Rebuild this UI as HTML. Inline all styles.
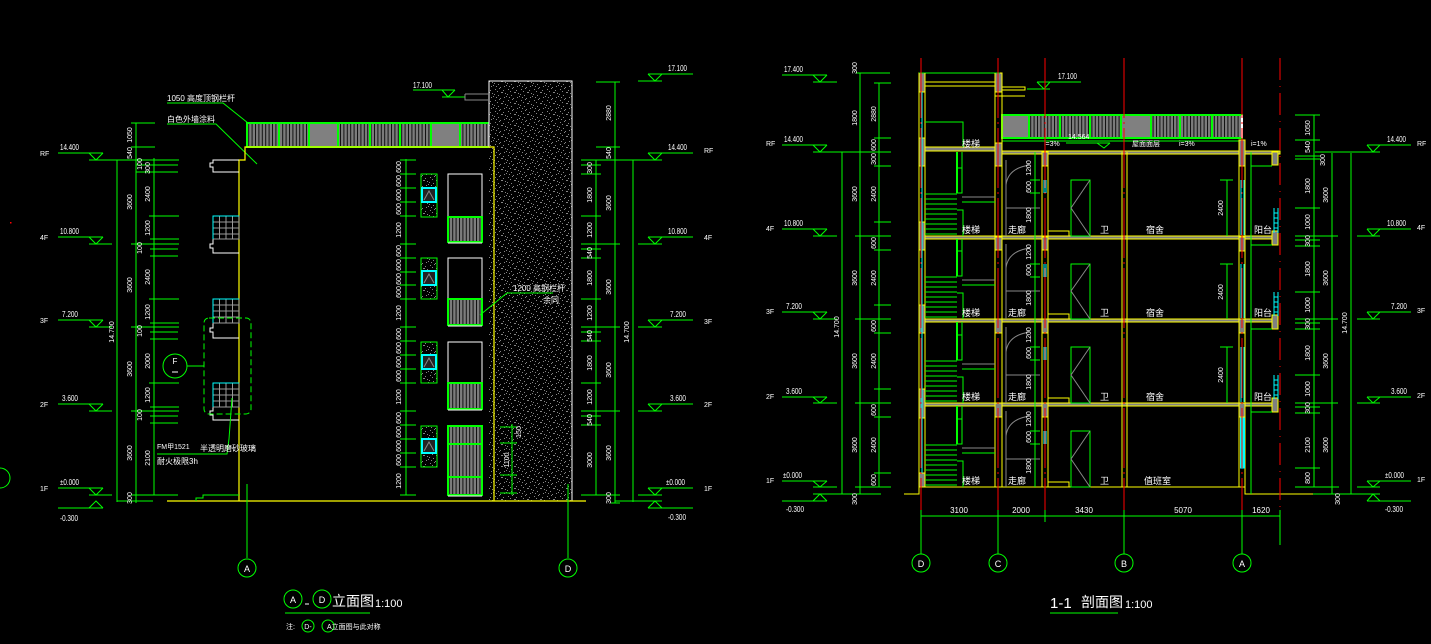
<!DOCTYPE html>
<html><head><meta charset="utf-8">
<style>
html,body{margin:0;padding:0;background:#000;}
svg{display:block;}
text{font-family:"Liberation Sans","Noto Sans CJK SC",sans-serif;fill:#fff;}
.t7{font-size:7px;}
.t8{font-size:8px;}
.t9{font-size:9px;}
</style></head><body>
<svg width="1431" height="644" viewBox="0 0 1431 644" xmlns="http://www.w3.org/2000/svg">
<defs>
<pattern id="sp" width="13" height="11" patternUnits="userSpaceOnUse">
<rect width="13" height="11" fill="#000"/>
<g fill="#858585">
<rect x="1" y="1" width="1" height="1"/><rect x="5" y="0" width="1" height="1"/><rect x="9" y="2" width="1" height="1"/>
<rect x="3" y="3" width="1" height="1"/><rect x="7" y="4" width="2" height="1"/><rect x="11" y="5" width="1" height="1"/><rect x="0" y="6" width="1" height="1"/>
<rect x="4" y="7" width="1" height="1"/><rect x="2" y="9" width="1" height="1"/><rect x="6" y="10" width="1" height="1"/>
<rect x="10" y="9" width="1" height="1"/><rect x="12" y="8" width="1" height="1"/>
</g>
</pattern>
<pattern id="rl" width="3.4" height="20" patternUnits="userSpaceOnUse">
<rect width="3.4" height="20" fill="#7c7c7c"/><rect width="1" height="20" fill="#111"/>
</pattern>
</defs>
<rect width="1431" height="644" fill="#000"/>

<!-- ================= LEFT ELEVATION ================= -->
<rect x="10" y="222" width="1.5" height="1.5" fill="#f00"/>
<circle cx="0" cy="478" r="10" stroke="#0f0" fill="none"/>

<g stroke="#0f0" fill="none" stroke-width="1">
<path d="M58 153H103M89 153L96 160L103 153M89 160H179"/>
<path d="M58 237H103M89 237L96 244L103 237M89 244H112M131 244H179"/>
<path d="M58 320H103M89 320L96 327L103 320M89 327H112M131 327H179"/>
<path d="M58 404H103M89 404L96 411L103 404M89 411H112M131 411H179"/>
<path d="M58 488H103M89 488L96 495L103 488M89 495H112M131 495H178"/>
<path d="M58 508H103M89 508L96 501L103 508M117 501H153"/>
<path d="M117 160V502M136 123V503M154 158V495"/>
<path d="M131 123H155M131 147H155M136 165H178M136 172H178M150 249H178M150 256H178M150 332H178M150 339H178M150 416H178M150 423H178"/>
<path d="M149 216H179M150 239H179M149 299H179M150 323H179M149 383H179M150 407H179"/>
</g>
<g class="t8">
<text x="60" y="150" textLength="19" lengthAdjust="spacingAndGlyphs">14.400</text><text x="60" y="234" textLength="19" lengthAdjust="spacingAndGlyphs">10.800</text><text x="62" y="317" textLength="16" lengthAdjust="spacingAndGlyphs">7.200</text><text x="62" y="401" textLength="16" lengthAdjust="spacingAndGlyphs">3.600</text><text x="60" y="485" textLength="19" lengthAdjust="spacingAndGlyphs">±0.000</text><text x="60" y="521" textLength="18" lengthAdjust="spacingAndGlyphs">-0.300</text>
</g>
<g class="t7">
<text x="40" y="156">RF</text><text x="40" y="240">4F</text><text x="40" y="323">3F</text><text x="40" y="407">2F</text><text x="40" y="491">1F</text>
</g>
<g class="t7" text-anchor="middle">
<text transform="translate(132,135) rotate(-90)">1050</text>
<text transform="translate(132,153) rotate(-90)">540</text>
<text transform="translate(132,202) rotate(-90)">3600</text>
<text transform="translate(132,285) rotate(-90)">3600</text>
<text transform="translate(132,369) rotate(-90)">3600</text>
<text transform="translate(132,453) rotate(-90)">3600</text>
<text transform="translate(132,498) rotate(-90)">300</text>
<text transform="translate(150,168) rotate(-90)">300</text>
<text transform="translate(150,194) rotate(-90)">2400</text>
<text transform="translate(150,228) rotate(-90)">1200</text>
<text transform="translate(150,277) rotate(-90)">2400</text>
<text transform="translate(150,312) rotate(-90)">1200</text>
<text transform="translate(150,361) rotate(-90)">2000</text>
<text transform="translate(150,395) rotate(-90)">1200</text>
<text transform="translate(150,458) rotate(-90)">2100</text>
<text transform="translate(142,164) rotate(-90)">100</text>
<text transform="translate(142,248) rotate(-90)">100</text>
<text transform="translate(142,331) rotate(-90)">100</text>
<text transform="translate(142,415) rotate(-90)">100</text>
<text transform="translate(114,332) rotate(-90)">14.700</text>
</g>

<g class="t8">
<text x="167" y="101">1050 高度顶钢栏杆</text>
<text x="167" y="122">白色外墙涂料</text>
</g>
<path d="M167 103H223L248 123M167 124H216L257 164" stroke="#0f0" fill="none"/>

<rect x="247" y="123" width="246" height="24" fill="url(#rl)"/>
<rect x="309" y="123" width="29" height="24" fill="#808080"/>
<rect x="431" y="123" width="29" height="24" fill="#808080"/>
<rect x="247" y="123" width="246" height="24" fill="none" stroke="#0f0" stroke-width="2"/>
<path d="M279 123V147M309 123V147M338 123V147M370 123V147M400 123V147M431 123V147M460 123V147" stroke="#0f0" stroke-width="2"/>

<rect x="489" y="81" width="83" height="420" fill="url(#sp)"/>
<path d="M489 147V81H572V501" stroke="#fff" fill="none"/>

<path d="M239 501V160H245V147H494V501" stroke="#ff0" fill="none" stroke-width="1.2"/>
<path d="M167 501H586" stroke="#ff0" stroke-width="1.2"/>
<path d="M196 501V498H203V495H239" stroke="#0f0" fill="none"/>

<g stroke="#fff" fill="none">
<path d="M239 160H213V163H210V167H213V172H239"/>
<path d="M239 239H213V244H210V248H213V253H239"/>
<path d="M239 323H213V328H210V332H213V338H239"/>
<path d="M239 407H213V411H210V415H213V420H239"/>
</g>
<g stroke="#9a9a9a" fill="none">
<path d="M213 216H239V239H213ZM219.5 216V239M226 216V239M232.5 216V239M213 222H239M213 228H239M213 234H239"/>
<path d="M213 299H239V323H213ZM219.5 299V323M226 299V323M232.5 299V323M213 305H239M213 311H239M213 317H239"/>
<path d="M213 383H239V407H213ZM219.5 383V407M226 383V407M232.5 383V407M213 389H239M213 395H239M213 401H239"/>
</g>
<path d="M213 239V216H239M213 323V299H239M213 407V383H239" stroke="#0ff" fill="none"/>
<rect x="204" y="318" width="47" height="96" rx="5" stroke="#0f0" fill="none" stroke-dasharray="6 3"/>
<circle cx="175" cy="366" r="12" stroke="#0f0" fill="none"/>
<path d="M187 366H204" stroke="#0f0"/>
<text x="175" y="364" class="t8" text-anchor="middle">F</text>
<path d="M172 372H178" stroke="#fff"/>
<path d="M157 454H227L229 439L232 398" stroke="#0f0" fill="none"/>
<text x="200" y="451" class="t8">半透明磨砂玻璃</text>
<text x="157" y="449" class="t7">FM甲1521</text>
<text x="157" y="464" class="t8">耐火极限3h</text>

<g stroke="#0f0" fill="none">
<path d="M406 159V495"/>
<path d="M400 160H416M400 174H416M400 188H416M400 202H416M400 216H416M400 244H416M400 258H416M400 272H416M400 285H416M400 299H416M400 327H416M400 341H416M400 355H416M400 369H416M400 383H416M400 411H416M400 425H416M400 439H416M400 453H416M400 467H416M400 495H416"/>
</g>
<g class="t7" text-anchor="middle">
<text transform="translate(401,167) rotate(-90)">600</text>
<text transform="translate(401,181) rotate(-90)">600</text>
<text transform="translate(401,195) rotate(-90)">600</text>
<text transform="translate(401,209) rotate(-90)">600</text>
<text transform="translate(401,230) rotate(-90)">1200</text>
<text transform="translate(401,251) rotate(-90)">600</text>
<text transform="translate(401,265) rotate(-90)">600</text>
<text transform="translate(401,279) rotate(-90)">600</text>
<text transform="translate(401,292) rotate(-90)">600</text>
<text transform="translate(401,313) rotate(-90)">1200</text>
<text transform="translate(401,334) rotate(-90)">600</text>
<text transform="translate(401,348) rotate(-90)">600</text>
<text transform="translate(401,362) rotate(-90)">600</text>
<text transform="translate(401,376) rotate(-90)">600</text>
<text transform="translate(401,397) rotate(-90)">1200</text>
<text transform="translate(401,418) rotate(-90)">600</text>
<text transform="translate(401,432) rotate(-90)">600</text>
<text transform="translate(401,446) rotate(-90)">600</text>
<text transform="translate(401,460) rotate(-90)">600</text>
<text transform="translate(401,481) rotate(-90)">1200</text>
</g>

<g>
<rect x="421" y="174" width="16" height="43" fill="url(#sp)" stroke="#0f0"/>
<rect x="422" y="188" width="14" height="14" fill="#222" stroke="#0ff" stroke-width="2"/>
<rect x="421" y="258" width="16" height="41" fill="url(#sp)" stroke="#0f0"/>
<rect x="422" y="271" width="14" height="14" fill="#222" stroke="#0ff" stroke-width="2"/>
<rect x="421" y="342" width="16" height="41" fill="url(#sp)" stroke="#0f0"/>
<rect x="422" y="355" width="14" height="14" fill="#222" stroke="#0ff" stroke-width="2"/>
<rect x="421" y="426" width="16" height="41" fill="url(#sp)" stroke="#0f0"/>
<rect x="422" y="439" width="14" height="14" fill="#222" stroke="#0ff" stroke-width="2"/>
<path d="M424 200L429 191L434 200M424 283L429 274L434 283M424 367L429 358L434 367M424 451L429 442L434 451" stroke="#888" fill="none"/>
</g>
<g>
<rect x="448" y="174" width="34" height="43" fill="none" stroke="#fff"/>
<rect x="448" y="217" width="34" height="25" fill="url(#rl)" stroke="#0f0" stroke-width="2"/>
<rect x="448" y="258" width="34" height="41" fill="none" stroke="#fff"/>
<rect x="448" y="299" width="34" height="26" fill="url(#rl)" stroke="#0f0" stroke-width="2"/>
<rect x="448" y="342" width="34" height="41" fill="none" stroke="#fff"/>
<rect x="448" y="383" width="34" height="26" fill="url(#rl)" stroke="#0f0" stroke-width="2"/>
<rect x="448" y="426" width="34" height="69" fill="url(#rl)" stroke="#0f0" stroke-width="2"/>
<path d="M448 444H482M448 477H482" stroke="#0f0" stroke-width="2"/>
<path d="M448 243H482M448 326H482M448 410H482M448 496H482" stroke="#fff"/>
</g>
<path d="M480 315L507 293H553" stroke="#0f0" fill="none"/>
<text x="513" y="291" class="t8">1200 高钢栏杆</text>
<text x="543" y="303" class="t8">余同</text>
<path d="M512 424V495M500 427H517M500 443H517M500 475H517M500 493H517" stroke="#0f0"/>
<g class="t7" text-anchor="middle">
<text transform="translate(509,460) rotate(-90)">1100</text>
<text transform="translate(521,432) rotate(-90)">150</text>
</g>

<path d="M247 484V558M568 484V558" stroke="#0f0"/>
<circle cx="247" cy="568" r="9" stroke="#0f0" fill="none"/>
<circle cx="568" cy="568" r="9" stroke="#0f0" fill="none"/>
<text x="247" y="572" class="t9" text-anchor="middle">A</text>
<text x="568" y="572" class="t9" text-anchor="middle">D</text>

<path d="M413 90H455M442 90L448 97L455 90M442 97H465" stroke="#0f0" fill="none"/>
<path d="M465 94H489M465 94V100H489" stroke="#888" fill="none"/>
<text x="413" y="88" class="t8" textLength="19" lengthAdjust="spacingAndGlyphs">17.100</text>

<g stroke="#0f0" fill="none">
<path d="M596 160V495M615 82V503M633 160V502"/>
<path d="M596 82H620M596 147H620M581 160H662M581 165H601M581 174H601M581 216H601M581 244H620M581 249H601M581 258H601M581 299H601M581 327H620M581 332H601M581 341H601M581 383H601M581 411H620M581 416H601M581 425H601M581 495H620M611 503H620"/>
<path d="M648 74H693M648 74L655 81L662 74M638 81H662"/>
<path d="M648 153H693M648 153L655 160L662 153"/>
<path d="M648 237H693M648 237L655 244L662 237M638 244H662"/>
<path d="M648 320H693M648 320L655 327L662 320M638 327H662"/>
<path d="M648 404H693M648 404L655 411L662 404M638 411H662"/>
<path d="M648 488H693M648 488L655 495L662 488M638 495H662M648 508H693M648 508L655 501L662 508M615 501H662"/>
</g>
<g class="t8">
<text x="668" y="71" textLength="19" lengthAdjust="spacingAndGlyphs">17.100</text><text x="668" y="150" textLength="19" lengthAdjust="spacingAndGlyphs">14.400</text><text x="668" y="234" textLength="19" lengthAdjust="spacingAndGlyphs">10.800</text><text x="670" y="317" textLength="16" lengthAdjust="spacingAndGlyphs">7.200</text><text x="670" y="401" textLength="16" lengthAdjust="spacingAndGlyphs">3.600</text><text x="666" y="485" textLength="19" lengthAdjust="spacingAndGlyphs">±0.000</text><text x="668" y="520" textLength="18" lengthAdjust="spacingAndGlyphs">-0.300</text>
</g>
<g class="t7">
<text x="704" y="153">RF</text><text x="704" y="240">4F</text><text x="704" y="324">3F</text><text x="704" y="407">2F</text><text x="704" y="491">1F</text>
</g>
<g class="t7" text-anchor="middle">
<text transform="translate(592,168) rotate(-90)">300</text>
<text transform="translate(592,195) rotate(-90)">1800</text>
<text transform="translate(592,230) rotate(-90)">1200</text>
<text transform="translate(592,253) rotate(-90)">540</text>
<text transform="translate(592,278) rotate(-90)">1800</text>
<text transform="translate(592,313) rotate(-90)">1200</text>
<text transform="translate(592,336) rotate(-90)">540</text>
<text transform="translate(592,363) rotate(-90)">1800</text>
<text transform="translate(592,397) rotate(-90)">1200</text>
<text transform="translate(592,420) rotate(-90)">540</text>
<text transform="translate(592,460) rotate(-90)">3000</text>
<text transform="translate(611,113) rotate(-90)">2880</text>
<text transform="translate(611,153) rotate(-90)">540</text>
<text transform="translate(611,203) rotate(-90)">3600</text>
<text transform="translate(611,287) rotate(-90)">3600</text>
<text transform="translate(611,370) rotate(-90)">3600</text>
<text transform="translate(611,453) rotate(-90)">3600</text>
<text transform="translate(611,498) rotate(-90)">300</text>
<text transform="translate(629,332) rotate(-90)">14.700</text>
</g>

<circle cx="293" cy="599" r="9" stroke="#0f0" fill="none"/>
<circle cx="322" cy="599" r="9" stroke="#0f0" fill="none"/>
<text x="293" y="603" class="t9" text-anchor="middle">A</text>
<text x="322" y="603" class="t9" text-anchor="middle">D</text>
<path d="M305 604H309" stroke="#fff"/>
<text x="332" y="606" style="font-size:14px">立面图</text>
<text x="375" y="607" style="font-size:11px">1:100</text>
<path d="M285 613H370" stroke="#0f0"/>
<text x="286" y="629" class="t7">注:</text>
<circle cx="308" cy="626" r="6" stroke="#0f0" fill="none"/>
<circle cx="328" cy="626" r="6" stroke="#0f0" fill="none"/>
<text x="308" y="629" class="t7" text-anchor="middle">D-</text>
<text x="327" y="629" class="t7">A立面图与此对称</text>

<!-- ================= SECTION 1-1 ================= -->
<g stroke="#0f0" fill="none">
<path d="M782 75H827M813 75L820 82L827 75M813 82H837"/>
<path d="M782 145H827M813 145L820 152L827 145M813 152H891"/>
<path d="M782 229H827M813 229L820 236L827 229M813 236H837M855 236H891"/>
<path d="M782 312H827M813 312L820 319L827 312M813 319H837M855 319H891"/>
<path d="M782 397H827M813 397L820 403L827 397M813 403H837M855 403H891"/>
<path d="M782 481H827M813 481L820 487L827 481M813 487H837M855 487H891M782 501H827M813 501L820 494L827 501M813 494H881"/>
<path d="M842 152V494M860 73V494M879 83V487"/>
<path d="M856 73H890M874 83H891M874 138H891M874 166H891M874 222H891M874 250H891M874 305H891M874 333H891M874 389H891M874 417H891M874 473H891"/>
</g>
<g class="t8">
<text x="784" y="72" textLength="19" lengthAdjust="spacingAndGlyphs">17.400</text><text x="784" y="142" textLength="19" lengthAdjust="spacingAndGlyphs">14.400</text><text x="784" y="226" textLength="19" lengthAdjust="spacingAndGlyphs">10.800</text><text x="786" y="309" textLength="16" lengthAdjust="spacingAndGlyphs">7.200</text><text x="786" y="394" textLength="16" lengthAdjust="spacingAndGlyphs">3.600</text><text x="783" y="478" textLength="19" lengthAdjust="spacingAndGlyphs">±0.000</text><text x="786" y="512" textLength="18" lengthAdjust="spacingAndGlyphs">-0.300</text>
</g>
<g class="t7">
<text x="766" y="146">RF</text><text x="766" y="231">4F</text><text x="766" y="314">3F</text><text x="766" y="399">2F</text><text x="766" y="483">1F</text>
</g>
<g class="t7" text-anchor="middle">
<text transform="translate(857,68) rotate(-90)">300</text>
<text transform="translate(857,118) rotate(-90)">1800</text>
<text transform="translate(857,194) rotate(-90)">3600</text>
<text transform="translate(857,278) rotate(-90)">3600</text>
<text transform="translate(857,361) rotate(-90)">3600</text>
<text transform="translate(857,445) rotate(-90)">3600</text>
<text transform="translate(876,114) rotate(-90)">2880</text>
<text transform="translate(876,145) rotate(-90)">600</text>
<text transform="translate(876,159) rotate(-90)">300</text>
<text transform="translate(876,194) rotate(-90)">2400</text>
<text transform="translate(876,243) rotate(-90)">600</text>
<text transform="translate(876,278) rotate(-90)">2400</text>
<text transform="translate(876,326) rotate(-90)">600</text>
<text transform="translate(876,361) rotate(-90)">2400</text>
<text transform="translate(876,410) rotate(-90)">600</text>
<text transform="translate(876,445) rotate(-90)">2400</text>
<text transform="translate(876,480) rotate(-90)">600</text>
<text transform="translate(839,327) rotate(-90)">14.700</text>
<text transform="translate(857,499) rotate(-90)">300</text>
</g>

<rect x="1002" y="115" width="240" height="23" fill="url(#rl)"/>
<rect x="1002" y="115" width="27" height="23" fill="#808080"/>
<rect x="1121" y="115" width="30" height="23" fill="#808080"/>
<rect x="1002" y="115" width="240" height="23" fill="none" stroke="#0f0" stroke-width="2"/>
<path d="M1029 115V138M1060 115V138M1090 115V138M1121 115V138M1151 115V138M1180 115V138M1212 115V138" stroke="#0f0" stroke-width="2"/>
<path d="M1242 115V138" stroke="#fff" stroke-width="2"/>
<path d="M1002 141H1242" stroke="#0f0"/>
<path d="M1037 82H1081M1037 82L1044 89L1050 82M1027 89H1050" stroke="#0f0" fill="none"/>
<text x="1058" y="79" class="t8" textLength="19" lengthAdjust="spacingAndGlyphs">17.100</text>
<rect x="1002" y="87" width="23" height="3" stroke="#ff0" fill="none"/>

<g class="t7">
<text x="1044" y="146">i=3%</text>
<text x="1132" y="146">屋面面层</text>
<text x="1179" y="146">i=3%</text>
<text x="1251" y="146">i=1%</text>
<text x="1068" y="139">14.564</text>
</g>
<path d="M1066 143H1110M1097 143L1104 148L1110 143" stroke="#0f0" fill="none"/>

<g fill="#808080" stroke="#ff0" stroke-width="1">
<rect x="919" y="147" width="83" height="4"/>
<rect x="1002" y="151" width="278" height="3"/>
<rect x="919" y="236" width="359" height="3"/>
<rect x="919" y="319" width="359" height="3"/>
<rect x="919" y="403" width="359" height="3"/>
<rect x="919" y="73" width="6" height="19"/><rect x="919" y="138" width="6" height="28"/><rect x="919" y="222" width="6" height="28"/><rect x="919" y="305" width="6" height="28"/><rect x="919" y="389" width="6" height="29"/><rect x="919" y="473" width="6" height="14"/>
<rect x="995" y="73" width="7" height="19"/><rect x="995" y="143" width="7" height="23"/><rect x="995" y="237" width="7" height="13"/><rect x="995" y="319" width="7" height="14"/><rect x="995" y="403" width="7" height="14"/>
<rect x="1042" y="152" width="6" height="14"/><rect x="1042" y="237" width="6" height="13"/><rect x="1042" y="319" width="6" height="14"/><rect x="1042" y="403" width="6" height="14"/>
<rect x="1239" y="140" width="6" height="26"/><rect x="1239" y="237" width="6" height="14"/><rect x="1239" y="319" width="6" height="14"/><rect x="1239" y="403" width="6" height="14"/>
<rect x="1272" y="152" width="6" height="13"/><rect x="1272" y="231" width="6" height="14"/><rect x="1272" y="315" width="6" height="14"/><rect x="1272" y="398" width="6" height="14"/>
</g>
<path d="M919 73H1000" stroke="#0f0"/>
<path d="M925 82H995M925 86H995" stroke="#ff0"/>
<path d="M995 96H1025" stroke="#ff0"/>

<g stroke="#ff0" fill="none">
<path d="M919 73V494H904M925 73V487M995 73V487M1002 92V487M1042 152V487M1048 152V487M1122 152V487M1127 152V487M1239 140V487M1245 140V494H1313"/>
<path d="M919 487H1245"/>
</g>
<path d="M922 92V473" stroke="#0ff"/>
<g stroke="#0ff" fill="none">
<path d="M1044 180V193M1046 180V193M1044 264V277M1046 264V277M1044 347V360M1046 347V360M1044 431V444M1046 431V444"/>
<path d="M1241 180V235M1244 180V235M1241 264V318M1244 264V318M1241 347V402M1244 347V402"/>
<rect x="1240.5" y="418" width="4" height="50" fill="#0ff"/>
<path d="M1274 208V233M1278 208V233M1274 213H1278M1274 218H1278M1274 223H1278M1274 228H1278"/>
<path d="M1274 292V316M1278 292V316M1274 297H1278M1274 302H1278M1274 307H1278M1274 312H1278"/>
<path d="M1274 375V399M1278 375V399M1274 380H1278M1274 385H1278M1274 390H1278M1274 395H1278"/>
</g>

<g stroke="#0f0" fill="none">
<path d="M925 194H957M925 199H957M925 204H957M925 209H957M925 214H957M925 219H957M925 224H957M925 229H957M925 234H957"/>
<path d="M925 277H957M925 282H957M925 287H957M925 292H957M925 297H957M925 302H957M925 307H957M925 312H957M925 317H957"/>
<path d="M925 361H957M925 366H957M925 371H957M925 376H957M925 381H957M925 386H957M925 391H957M925 396H957M925 401H957"/>
<path d="M925 445H957M925 450H957M925 455H957M925 460H957M925 465H957M925 470H957M925 475H957M925 480H957M925 485H957"/>
<path d="M925 122H963V147"/>
<path d="M962 152V168M957 168H962V193H957ZM957 210H963V236M962 202H995"/>
<path d="M962 239V251M957 251H962V276H957ZM957 293H963V319M962 285H995"/>
<path d="M962 322V335M957 335H962V360H957ZM957 377H963V403M962 369H995"/>
<path d="M962 406V419M957 419H962V444H957ZM957 461H963V487M962 453H995"/>
<path d="M957 152V193M957 239V276M957 322V360M957 406V444" stroke-width="2"/>
</g>
<path d="M962 197H995M962 280H995M962 364H995M962 448H995" stroke="#888"/>

<g stroke="#888" fill="none">
<path d="M1006 160V236M1006 208H1040M1006 185Q1008 168 1030 165"/>
<path d="M1006 244V319M1006 291H1040M1006 268Q1008 251 1030 248"/>
<path d="M1006 327V403M1006 375H1040M1006 352Q1008 335 1030 332"/>
<path d="M1006 411V487M1006 459H1040M1006 436Q1008 419 1030 416"/>
</g>
<g stroke="#0f0" fill="none">
<path d="M1035 152V487"/>
<path d="M1030 180H1040M1030 193H1040M1030 264H1040M1030 277H1040M1030 347H1040M1030 360H1040M1030 431H1040M1030 444H1040"/>
</g>
<g class="t7" text-anchor="middle">
<text transform="translate(1031,168) rotate(-90)">1200</text>
<text transform="translate(1031,187) rotate(-90)">600</text>
<text transform="translate(1031,215) rotate(-90)">1800</text>
<text transform="translate(1031,252) rotate(-90)">1200</text>
<text transform="translate(1031,270) rotate(-90)">600</text>
<text transform="translate(1031,298) rotate(-90)">1800</text>
<text transform="translate(1031,335) rotate(-90)">1200</text>
<text transform="translate(1031,353) rotate(-90)">600</text>
<text transform="translate(1031,382) rotate(-90)">1800</text>
<text transform="translate(1031,419) rotate(-90)">1200</text>
<text transform="translate(1031,437) rotate(-90)">600</text>
<text transform="translate(1031,466) rotate(-90)">1800</text>
</g>

<g stroke="#ff0" fill="none">
<path d="M1048 231H1069V236M1048 314H1069V319M1048 398H1069V403M1048 482H1069V487"/>
</g>
<g stroke="#0f0" fill="none">
<rect x="1071" y="180" width="19" height="56"/>
<rect x="1071" y="264" width="19" height="55"/>
<rect x="1071" y="347" width="19" height="56"/>
<rect x="1071" y="431" width="19" height="56"/>
<path d="M1227 180V236M1220 180H1233M1227 264V319M1220 264H1233M1227 347V403M1220 347H1233M1251 152V494"/>
<path d="M1251 245H1272M1251 329H1272M1251 412H1272M1251 166H1272"/>
</g>
<path d="M1090 180L1071 208L1090 236M1090 264L1071 291L1090 319M1090 347L1071 375L1090 403M1090 431L1071 459L1090 487" stroke="#888" fill="none"/>
<g class="t7" text-anchor="middle">
<text transform="translate(1223,208) rotate(-90)">2400</text>
<text transform="translate(1223,292) rotate(-90)">2400</text>
<text transform="translate(1223,375) rotate(-90)">2400</text>
</g>
<g class="t9">
<text x="962" y="147">楼梯</text>
<text x="962" y="233">楼梯</text><text x="1008" y="233">走廊</text><text x="1100" y="233">卫</text><text x="1146" y="233">宿舍</text><text x="1254" y="233">阳台</text>
<text x="962" y="316">楼梯</text><text x="1008" y="316">走廊</text><text x="1100" y="316">卫</text><text x="1146" y="316">宿舍</text><text x="1254" y="316">阳台</text>
<text x="962" y="400">楼梯</text><text x="1008" y="400">走廊</text><text x="1100" y="400">卫</text><text x="1146" y="400">宿舍</text><text x="1254" y="400">阳台</text>
<text x="962" y="484">楼梯</text><text x="1008" y="484">走廊</text><text x="1100" y="484">卫</text><text x="1144" y="484">值班室</text>
</g>

<g stroke="#f00" fill="none">
<path d="M921 58V510M998 58V510M1045 58V510M1124 58V510M1242 58V510" stroke-dasharray="60 4 2 4"/>
<path d="M1280 58V510" stroke-dasharray="22 6 1 6"/>
</g>

<g stroke="#0f0" fill="none">
<path d="M1314 115V487M1332 153V494M1351 153V494"/>
<path d="M1295 115H1320M1295 140H1320M1295 156H1320M1295 159H1320M1295 208H1320M1295 236H1338M1295 240H1320M1295 246H1320M1295 292H1320M1295 319H1338M1295 323H1320M1295 329H1320M1295 375H1320M1295 403H1338M1295 407H1320M1295 413H1320M1295 468H1320M1295 487H1339M1313 494H1380"/>
<path d="M1367 145H1411M1367 145L1373 152L1380 145M1315 152H1380"/>
<path d="M1367 229H1411M1367 229L1373 236L1380 229M1357 236H1380"/>
<path d="M1367 312H1411M1367 312L1373 319L1380 312M1357 319H1380"/>
<path d="M1367 397H1411M1367 397L1373 403L1380 397M1357 403H1380"/>
<path d="M1367 481H1411M1367 481L1373 487L1380 481M1357 487H1380M1367 501H1411M1367 501L1373 494L1380 501"/>
</g>
<g class="t8">
<text x="1387" y="142" textLength="19" lengthAdjust="spacingAndGlyphs">14.400</text><text x="1387" y="226" textLength="19" lengthAdjust="spacingAndGlyphs">10.800</text><text x="1391" y="309" textLength="16" lengthAdjust="spacingAndGlyphs">7.200</text><text x="1391" y="394" textLength="16" lengthAdjust="spacingAndGlyphs">3.600</text><text x="1385" y="478" textLength="19" lengthAdjust="spacingAndGlyphs">±0.000</text><text x="1385" y="512" textLength="18" lengthAdjust="spacingAndGlyphs">-0.300</text>
</g>
<g class="t7">
<text x="1417" y="146">RF</text><text x="1417" y="230">4F</text><text x="1417" y="313">3F</text><text x="1417" y="398">2F</text><text x="1417" y="482">1F</text>
</g>
<g class="t7" text-anchor="middle">
<text transform="translate(1310,128) rotate(-90)">1050</text>
<text transform="translate(1310,147) rotate(-90)">540</text>
<text transform="translate(1310,186) rotate(-90)">1800</text>
<text transform="translate(1310,222) rotate(-90)">1000</text>
<text transform="translate(1310,241) rotate(-90)">300</text>
<text transform="translate(1310,269) rotate(-90)">1800</text>
<text transform="translate(1310,305) rotate(-90)">1000</text>
<text transform="translate(1310,324) rotate(-90)">300</text>
<text transform="translate(1310,353) rotate(-90)">1800</text>
<text transform="translate(1310,389) rotate(-90)">1000</text>
<text transform="translate(1310,408) rotate(-90)">300</text>
<text transform="translate(1310,445) rotate(-90)">2100</text>
<text transform="translate(1310,478) rotate(-90)">800</text>
<text transform="translate(1328,195) rotate(-90)">3600</text>
<text transform="translate(1328,278) rotate(-90)">3600</text>
<text transform="translate(1328,361) rotate(-90)">3600</text>
<text transform="translate(1328,445) rotate(-90)">3600</text>
<text transform="translate(1325,160) rotate(-90)">300</text>
<text transform="translate(1347,323) rotate(-90)">14.700</text>
<text transform="translate(1340,499) rotate(-90)">300</text>
</g>

<g stroke="#0f0" fill="none">
<path d="M921 516H1280M921 510V522M998 510V522M1045 510V522M1124 510V522M1242 510V522M1280 510V545"/>
<path d="M921 510V554M998 510V554M1124 510V554M1242 510V554"/>
</g>
<g class="t8" text-anchor="middle">
<text x="959" y="513">3100</text><text x="1021" y="513">2000</text><text x="1084" y="513">3430</text><text x="1183" y="513">5070</text><text x="1261" y="513">1620</text>
</g>
<g stroke="#0f0" fill="none">
<circle cx="921" cy="563" r="9"/><circle cx="998" cy="563" r="9"/><circle cx="1124" cy="563" r="9"/><circle cx="1242" cy="563" r="9"/>
</g>
<g class="t9" text-anchor="middle">
<text x="921" y="567">D</text><text x="998" y="567">C</text><text x="1124" y="567">B</text><text x="1242" y="567">A</text>
</g>

<text x="1050" y="608" style="font-size:15px">1-1</text>
<text x="1081" y="607" style="font-size:14px">剖面图</text>
<text x="1125" y="608" style="font-size:11px">1:100</text>
<path d="M1050 613H1118" stroke="#0f0"/>
</svg>
</body></html>
